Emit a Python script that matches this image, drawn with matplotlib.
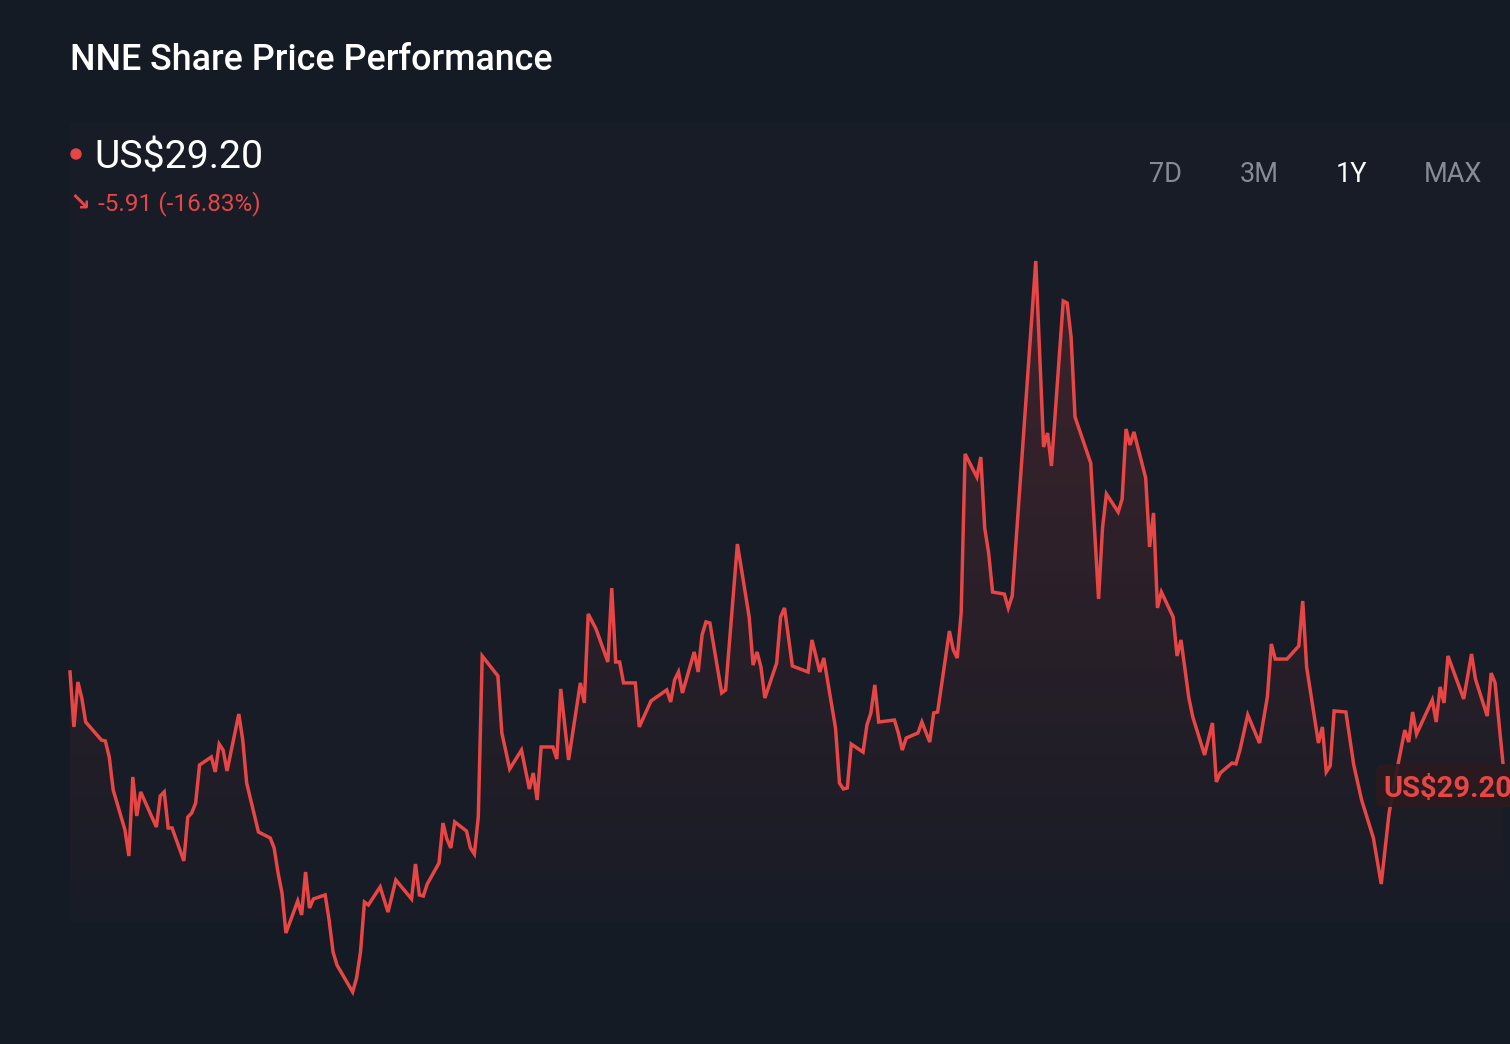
import numpy as np
import matplotlib
matplotlib.use("Agg")
import matplotlib.pyplot as plt
from matplotlib.patches import Rectangle, FancyBboxPatch, Circle
from matplotlib.transforms import IdentityTransform

# calendar-day offsets over the last year and closing prices (US$)
days = [0, 1, 2, 3, 4, 8, 9, 10, 11, 14, 15, 16, 17, 18, 22, 23, 24, 25, 26, 29,
        30, 31, 32, 33, 36, 37, 38, 39, 40, 43, 44, 45, 48, 51, 52, 53, 54, 55, 58, 59,
        60, 61, 62, 65, 66, 67, 68, 72, 73, 74, 75, 76, 79, 81, 83, 87, 88, 89, 90, 91,
        94, 95, 96, 97, 98, 101, 102, 103, 104, 105, 109, 110, 112, 115, 117, 118, 119, 120, 123, 124,
        125, 127, 130, 131, 132, 134, 137, 138, 139, 140, 141, 144, 145, 148, 152, 153, 154, 155, 156, 159,
        160, 161, 162, 163, 166, 167, 170, 173, 174, 175, 176, 177, 180, 181, 182, 184, 188, 189, 191, 192,
        195, 196, 197, 198, 199, 202, 203, 204, 205, 206, 210, 211, 212, 213, 216, 217, 219, 220, 221, 224,
        225, 226, 227, 228, 231, 232, 233, 234, 235, 238, 239, 240, 246, 248, 249, 250, 253, 254, 255, 256,
        260, 262, 263, 264, 267, 268, 269, 270, 271, 274, 275, 276, 277, 278, 281, 282, 283, 285, 286, 289,
        291, 292, 293, 296, 297, 298, 300, 303, 305, 306, 307, 310, 313, 314, 315, 318, 319, 320, 321, 322,
        325, 327, 329, 332, 334, 336, 338, 340, 341, 342, 343, 347, 348, 349, 350, 351, 355, 357, 358, 361,
        362, 363, 365]
prices = [35.11, 31.54, 34.46, 33.42, 31.86, 30.69, 30.63, 29.59, 27.45, 24.85, 23.16, 28.29, 25.76, 27.32, 25.04, 27.06, 27.32, 24.98, 24.98, 22.84,
          25.69, 25.95, 26.60, 29.07, 29.59, 28.62, 30.43, 30.04, 28.68, 32.38, 30.69, 27.90, 24.72, 24.33, 23.68, 22.06, 20.76, 18.16, 20.24, 19.33,
          22.12, 19.78, 20.37, 20.63, 19.00, 16.93, 16.08, 14.33, 15.24, 16.93, 20.17, 19.98, 21.15, 19.52, 21.60, 20.37, 22.64, 20.63, 20.56, 21.34,
          22.71, 25.30, 24.26, 23.68, 25.37, 24.78, 23.68, 23.29, 25.69, 36.15, 34.85, 31.15, 28.81, 30.04, 27.51, 28.55, 26.80, 30.24, 30.24, 29.46,
          34.01, 29.40, 34.40, 33.10, 38.88, 37.90, 35.76, 40.56, 35.76, 35.76, 34.40, 34.40, 31.54, 33.23, 33.94, 33.16, 34.59, 35.11, 33.75, 36.41,
          35.11, 37.51, 38.36, 38.29, 33.75, 33.94, 43.42, 38.68, 35.56, 36.41, 35.43, 33.42, 35.69, 38.68, 39.27, 35.50, 35.11, 37.19, 35.11, 36.02,
          31.47, 27.90, 27.51, 27.58, 30.43, 29.91, 31.67, 32.45, 34.27, 31.86, 31.99, 31.15, 30.04, 30.82, 31.15, 31.86, 30.56, 32.45, 32.51, 37.77,
          36.54, 36.02, 38.94, 49.27, 47.77, 49.07, 44.46, 42.84, 40.30, 40.17, 39.27, 40.05, 61.80, 49.72, 50.63, 48.49, 59.20, 59.07, 56.86, 51.67,
          48.68, 39.85, 44.46, 46.67, 45.50, 46.34, 50.89, 49.85, 50.70, 47.71, 43.23, 45.44, 39.27, 40.30, 38.68, 36.15, 37.19, 33.42, 32.19, 29.72,
          31.80, 27.97, 28.55, 29.20, 29.14, 30.04, 32.32, 30.50, 33.49, 36.93, 35.95, 35.95, 36.80, 39.72, 35.43, 30.50, 31.54, 28.62, 29.01, 32.58,
          32.51, 29.07, 26.80, 24.33, 21.34, 25.95, 28.75, 31.34, 30.56, 32.51, 31.08, 33.29, 31.86, 34.14, 33.10, 36.15, 33.36, 36.28, 34.65, 32.25,
          35.04, 34.40, 29.20]

ticker = "NNE"
last_price = prices[-1]
change = last_price - prices[0]
change_pct = change / prices[0] * 100
ranges = ["7D", "3M", "1Y", "MAX"]
active_range = "1Y"

W, H = 1510, 1044
bg = "#151b25"
red = "#e84545"
plt.rcParams["font.family"] = ["Roboto", "DejaVu Sans"]

fig = plt.figure(figsize=(W / 100, H / 100), dpi=100)
fig.patch.set_facecolor(bg)

# faint chart panel
fig.add_artist(Rectangle((70 / W, 1 - 920 / H), (W - 70) / W, (920 - 123) / H,
                         transform=fig.transFigure, color="#171c26", zorder=-5))

ax = fig.add_axes([70 / W, 0, (W - 70) / W, 1], zorder=1)
ax.set_facecolor("none")
ax.axis("off")
ax.set_xlim(0, 366.8)
ybot, ytop = 10.95, 78.75
ax.set_ylim(ybot, ytop)

# gradient area under the line
poly = ax.fill_between(days, prices, ybot, color="none", lw=0)
n = 256
grad = np.zeros((n, 1, 4))
grad[:, 0, 0:3] = matplotlib.colors.to_rgb(red)
yy = np.linspace(ybot, ytop, n)
grad[:, 0, 3] = np.clip((yy - 17.7) / (62.5 - 17.7), 0, 1) * 0.19
im = ax.imshow(grad, extent=[0, 366.8, ybot, ytop], origin="lower", aspect="auto", zorder=1)
im.set_clip_path(poly.get_paths()[0], transform=ax.transData)

ax.plot(days, prices, color=red, lw=2.5, solid_joinstyle="miter", zorder=3, clip_on=False)

# header texts
fig.text(70 / W, 1 - 70 / H, f"{ticker} Share Price Performance", color="white",
         fontsize=25.8, fontweight="medium", va="baseline")
fig.add_artist(Circle((76, H - 154), 5, transform=IdentityTransform(), color=red))
fig.text(94 / W, 1 - 168 / H, f"US${last_price:.2f}", color="white",
         fontsize=28.3, va="baseline")
fig.text(70 / W, 1 - 209 / H, "\u2198", color=red, fontsize=18, va="baseline",
         family="DejaVu Sans", fontweight="bold")
fig.text(98 / W, 1 - 210 / H, f"{change:.2f} ({change_pct:.2f}%)", color=red,
         fontsize=17.5, va="baseline")

xs = [1166, 1259, 1351, 1453]
for lab, xc in zip(ranges, xs):
    col = "white" if lab == active_range else "#878b93"
    fig.text(xc / W, 1 - 182 / H, lab, color=col, fontsize=19.5, ha="center", va="baseline")

# last price tag
fig.add_artist(FancyBboxPatch((1376, H - 807), 200, 43, boxstyle="round,pad=0,rounding_size=7",
                              transform=IdentityTransform(), facecolor="#2a1a1f", edgecolor="none",
                              alpha=0.92, zorder=4))
fig.text(1383 / W, 1 - 797 / H, f"US${last_price:.2f}", color=red, fontsize=21,
         fontweight="bold", va="baseline", zorder=5)

fig.savefig("out.png", dpi=100, facecolor=bg)
